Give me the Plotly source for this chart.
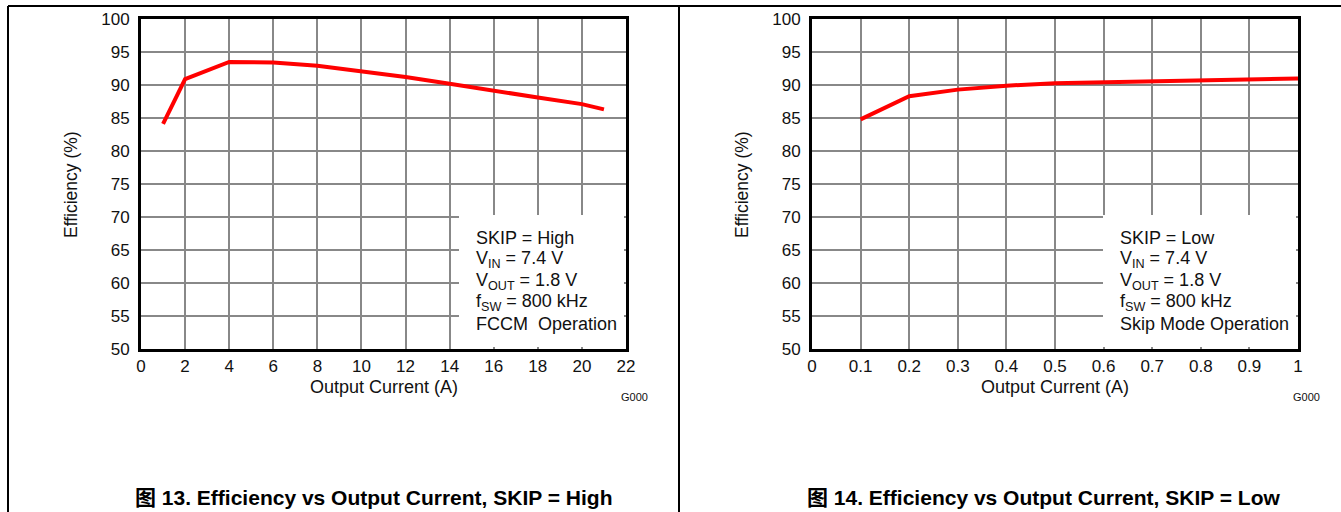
import plotly.graph_objects as go

# Efficiency curves for the two SKIP modes
current_high = [1, 2, 4, 6, 8, 10, 12, 14, 16, 18, 20, 21]
eff_high = [84.1, 90.9, 93.5, 93.4, 92.9, 92.1, 91.2, 90.2, 89.1, 88.1, 87.1, 86.3]

current_low = [0.1, 0.2, 0.3, 0.4, 0.5, 0.6, 0.7, 0.8, 0.9, 1.0]
eff_low = [84.8, 88.3, 89.3, 89.9, 90.25, 90.4, 90.5, 90.65, 90.8, 91.0]

y_ticks = [50, 55, 60, 65, 70, 75, 80, 85, 90, 95, 100]
x_ticks_high = list(range(0, 23, 2))
x_ticks_low = [0, 0.1, 0.2, 0.3, 0.4, 0.5, 0.6, 0.7, 0.8, 0.9, 1]
x_ticktext_low = ["0", "0.1", "0.2", "0.3", "0.4", "0.5", "0.6", "0.7", "0.8", "0.9", "1"]

notes_high = ["SKIP = High", "V<sub>IN</sub> = 7.4 V", "V<sub>OUT</sub> = 1.8 V",
              "f<sub>SW</sub> = 800 kHz", "FCCM  Operation"]
notes_low = ["SKIP = Low", "V<sub>IN</sub> = 7.4 V", "V<sub>OUT</sub> = 1.8 V",
             "f<sub>SW</sub> = 800 kHz", "Skip Mode Operation"]

captions = ["图 13. Efficiency vs Output Current, SKIP = High",
            "图 14. Efficiency vs Output Current, SKIP = Low"]

W, H = 1341, 512
FONT = "Arial, Liberation Sans, Noto Sans CJK SC, sans-serif"


def px(x):
    return x / W


def py(y):
    return 1 - y / H


fig = go.Figure()
fig.add_trace(go.Scatter(x=current_high, y=eff_high, mode="lines",
                         line=dict(color="#ff0000", width=4), xaxis="x", yaxis="y",
                         showlegend=False))
fig.add_trace(go.Scatter(x=current_low, y=eff_low, mode="lines",
                         line=dict(color="#ff0000", width=4), xaxis="x2", yaxis="y2",
                         showlegend=False))

panels = [
    dict(x0=141, x1=626, box_x0=459, cap_x=373),
    dict(x0=812, x1=1298, box_x0=1103, cap_x=1043),
]
plot_top, plot_bot = 19, 349

axis_common = dict(showgrid=True, gridcolor="#888888", gridwidth=2, automargin=False,
                   showline=True, linecolor="#000000", linewidth=3, mirror=True,
                   zeroline=False, ticks="", tickfont=dict(family=FONT, size=17, color="#111111"))

fig.update_layout(
    template="none",
    width=W, height=H, margin=dict(l=0, r=0, t=0, b=0, autoexpand=False),
    paper_bgcolor="white", plot_bgcolor="white", showlegend=False,
    xaxis=dict(domain=[px(141), px(626)], range=[0, 22], tickvals=x_ticks_high,
               anchor="y", ticklabelstandoff=0, **axis_common),
    yaxis=dict(domain=[py(plot_bot), py(plot_top)], range=[50, 100], tickvals=y_ticks,
               anchor="x", ticklabelstandoff=5, **axis_common),
    xaxis2=dict(domain=[px(812), px(1298)], range=[0, 1], tickvals=x_ticks_low,
                ticktext=x_ticktext_low, anchor="y2", ticklabelstandoff=0, **axis_common),
    yaxis2=dict(domain=[py(plot_bot), py(plot_top)], range=[50, 100], tickvals=y_ticks,
                anchor="x2", ticklabelstandoff=5, **axis_common),
)

shapes = [
    # outer frame lines
    dict(type="line", xref="paper", yref="paper", x0=px(8), x1=1, y0=py(6), y1=py(6),
         line=dict(color="black", width=2)),
    dict(type="line", xref="paper", yref="paper", x0=px(8), x1=px(8), y0=py(6), y1=0,
         line=dict(color="black", width=2)),
    dict(type="line", xref="paper", yref="paper", x0=px(679), x1=px(679), y0=py(6), y1=0,
         line=dict(color="black", width=2)),
]
annotations = []
for p, notes, cap in zip(panels, [notes_high, notes_low], captions):
    # white box behind the operating-condition notes
    shapes.append(dict(type="rect", xref="paper", yref="paper", layer="above",
                       x0=px(p["box_x0"]), x1=px(p["x1"] - 2), y0=py(plot_bot - 2), y1=py(215),
                       fillcolor="white", line=dict(width=0)))
    for j, t in enumerate(notes):
        annotations.append(dict(xref="paper", yref="paper", x=px(p["box_x0"] + 15),
                                y=py(238 + j * 21.5), text=t, showarrow=False,
                                xanchor="left", yanchor="middle",
                                font=dict(family=FONT, size=18, color="#111111")))
    cx = (p["x0"] + p["x1"]) / 2
    annotations.append(dict(xref="paper", yref="paper", x=px(cx), y=py(387),
                            text="Output Current (A)", showarrow=False,
                            xanchor="center", yanchor="middle",
                            font=dict(family=FONT, size=18, color="#111111")))
    annotations.append(dict(xref="paper", yref="paper", x=px(p["x0"] - 70), y=py(185),
                            text="Efficiency (%)", showarrow=False, textangle=-90,
                            xanchor="center", yanchor="middle",
                            font=dict(family=FONT, size=17.5, color="#111111")))
    annotations.append(dict(xref="paper", yref="paper", x=px(p["x1"] + 24), y=py(397),
                            text="G000", showarrow=False,
                            xanchor="right", yanchor="middle",
                            font=dict(family=FONT, size=11, color="#111111")))
    annotations.append(dict(xref="paper", yref="paper", x=px(p["cap_x"]), y=py(497),
                            text="<b>" + cap + "</b>", showarrow=False,
                            xanchor="center", yanchor="middle",
                            font=dict(family=FONT, size=21, color="#000000")))

fig.update_layout(shapes=shapes, annotations=annotations)
fig.write_html("out.html")
